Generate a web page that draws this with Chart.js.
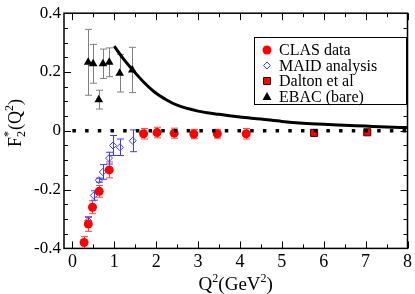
<!DOCTYPE html>
<html>
<head>
<meta charset="utf-8">
<script src="https://cdn.jsdelivr.net/npm/chart.js@4.4.0/dist/chart.umd.min.js"></script>
<style>
  html, body { margin: 0; padding: 0; background: #fff; }
  #wrap { width: 415px; height: 294px; }
</style>
</head>
<body>
<div id="wrap"><canvas id="chart" width="415" height="294"></canvas></div>
<script>
// data
const clasX   = [0.28, 0.38, 0.48, 0.64, 0.88, 1.70, 2.02, 2.43, 2.90, 3.46, 4.15];
const clasY   = [-0.380, -0.317, -0.260, -0.206, -0.133, -0.010, -0.006, -0.008, -0.011, -0.010, -0.010];
const clasErr = [0.020, 0.025, 0.022, 0.020, 0.027, 0.018, 0.018, 0.017, 0.016, 0.015, 0.018];

const maidX   = [0.38, 0.51, 0.63, 0.725, 0.875, 0.97, 1.135, 1.44];
const maidY   = [-0.306, -0.220, -0.168, -0.140, -0.093, -0.050, -0.056, -0.034];
const maidErr = [0.012, 0.016, 0.007, 0.025, 0.020, 0.034, 0.028, 0.037];

const daltonX = [5.77, 7.04];
const daltonY = [-0.007, -0.005];

const ebacX   = [0.377, 0.495, 0.63, 0.73, 0.88, 1.13, 1.43];
const ebacY   = [0.233, 0.228, 0.106, 0.228, 0.233, 0.196, 0.207];
const ebacErr = [0.112, 0.066, 0.032, 0.050, 0.049, 0.064, 0.077];

const curveX = [1.0, 1.2, 1.44, 1.7, 1.96, 2.25, 2.5, 3.0, 3.5, 4.0, 4.5, 5.0, 5.5, 6.0, 6.5, 7.0, 7.5, 8.0];
const curveY = [0.288, 0.248, 0.207, 0.166, 0.132, 0.105, 0.087, 0.067, 0.056, 0.047, 0.040, 0.032, 0.026, 0.022, 0.019, 0.016, 0.013, 0.011];

const zeroX = [0, 8];
const zeroY = [0, 0];

const xTicks = [0, 1, 2, 3, 4, 5, 6, 7, 8];
const yTicks = [-0.4, -0.2, 0, 0.2, 0.4];
const legendLabels = ['CLAS data', 'MAID analysis', 'Dalton et al', 'EBAC (bare)'];

const FONT = '"Liberation Serif", "DejaVu Serif", serif';
const RED = '#ff0000';
const BLUE = '#3c3cff';

const pts = (xs, ys) => xs.map((x, i) => ({ x: x, y: ys[i] }));

// error bars behind the markers
const errorBars = {
  id: 'errorBars',
  beforeDatasetsDraw(chart) {
    const { ctx, scales: { x, y } } = chart;
    const sets = [
      [ebacX, ebacY, ebacErr, '#808080'],
      [clasX, clasY, clasErr, '#ff4444'],
      [maidX, maidY, maidErr, BLUE]
    ];
    ctx.save();
    ctx.lineWidth = 1;
    sets.forEach(([xs, ys, es, col]) => {
      ctx.strokeStyle = col;
      xs.forEach((v, i) => {
        const px = Math.round(x.getPixelForValue(v)) + 0.5;
        const y1 = y.getPixelForValue(ys[i] + es[i]);
        const y2 = y.getPixelForValue(ys[i] - es[i]);
        ctx.beginPath();
        ctx.moveTo(px, y1); ctx.lineTo(px, y2);
        ctx.moveTo(px - 3.5, y1); ctx.lineTo(px + 3.5, y1);
        ctx.moveTo(px - 3.5, y2); ctx.lineTo(px + 3.5, y2);
        ctx.stroke();
      });
    });
    ctx.restore();
  }
};

function marker(ctx, kind, cx, cy) {
  ctx.beginPath();
  if (kind === 0) {
    ctx.fillStyle = RED;
    ctx.arc(cx, cy, 4.5, 0, Math.PI * 2);
    ctx.fill();
  } else if (kind === 1) {
    ctx.strokeStyle = BLUE; ctx.lineWidth = 1;
    ctx.moveTo(cx - 3.5, cy); ctx.lineTo(cx, cy - 3.5);
    ctx.lineTo(cx + 3.5, cy); ctx.lineTo(cx, cy + 3.5);
    ctx.closePath(); ctx.stroke();
  } else if (kind === 2) {
    ctx.fillStyle = RED; ctx.strokeStyle = '#400000'; ctx.lineWidth = 1;
    ctx.rect(cx - 3.5, cy - 3.5, 7, 7);
    ctx.fill(); ctx.stroke();
  } else {
    ctx.fillStyle = '#000';
    ctx.moveTo(cx, cy - 4.5); ctx.lineTo(cx + 4.5, cy + 3.5); ctx.lineTo(cx - 4.5, cy + 3.5);
    ctx.closePath(); ctx.fill();
  }
}

// frame, inward ticks, axis titles, legend
const decor = {
  id: 'decor',
  afterDraw(chart) {
    const { ctx, chartArea: a, scales: { x, y } } = chart;
    ctx.save();
    ctx.strokeStyle = '#000';
    ctx.lineWidth = 1.5;
    ctx.strokeRect(a.left, a.top, a.right - a.left, a.bottom - a.top);

    ctx.lineWidth = 1;
    ctx.beginPath();
    for (let v = 0; v <= 8.001; v += 0.5) {
      const px = Math.round(x.getPixelForValue(v)) + 0.5;
      const len = Math.abs(v - Math.round(v)) < 1e-6 ? 7 : 4;
      ctx.moveTo(px, a.bottom); ctx.lineTo(px, a.bottom - len);
      ctx.moveTo(px, a.top); ctx.lineTo(px, a.top + len);
    }
    for (let k = -8; k <= 8; k++) {
      const py = Math.round(y.getPixelForValue(k * 0.05)) + 0.5;
      const len = k % 4 === 0 ? 7 : 4;
      ctx.moveTo(a.left, py); ctx.lineTo(a.left + len, py);
      ctx.moveTo(a.right, py); ctx.lineTo(a.right - len, py);
    }
    ctx.stroke();

    // x title
    ctx.fillStyle = '#000';
    ctx.textBaseline = 'alphabetic';
    ctx.textAlign = 'left';
    const big = '19px ' + FONT, small = '12px ' + FONT;
    const parts = [['Q', big, 0], ['2', small, -8], ['(GeV', big, 0], ['2', small, -8], [')', big, 0]];
    let w = 0;
    parts.forEach(p => { ctx.font = p[1]; w += ctx.measureText(p[0]).width; });
    let cx = (a.left + a.right) / 2 - w / 2;
    parts.forEach(p => { ctx.font = p[1]; ctx.fillText(p[0], cx, 290 + p[2]); cx += ctx.measureText(p[0]).width; });

    // y title
    ctx.save();
    ctx.translate(21, 147);
    ctx.rotate(-Math.PI / 2);
    const yb = '18px ' + FONT;
    ctx.font = yb; ctx.fillText('F', 0, 0);
    let tx = ctx.measureText('F').width;
    ctx.font = small; ctx.fillText('2', tx, 4); ctx.fillText('*', tx, -9);
    tx += ctx.measureText('2').width + 1;
    ctx.font = yb; ctx.fillText('(Q', tx, 0); tx += ctx.measureText('(Q').width;
    ctx.font = small; ctx.fillText('2', tx, -8); tx += ctx.measureText('2').width;
    ctx.font = yb; ctx.fillText(')', tx, 0);
    ctx.restore();

    // legend
    ctx.fillStyle = '#fff';
    ctx.fillRect(254, 37, 152, 67);
    ctx.strokeStyle = '#000'; ctx.lineWidth = 1;
    ctx.strokeRect(254.5, 37.5, 152, 67);
    ctx.font = '16px ' + FONT;
    ctx.textBaseline = 'middle';
    legendLabels.forEach((lab, i) => {
      const ly = 50 + i * 15.5;
      marker(ctx, i, 267, ly);
      ctx.fillStyle = '#000';
      ctx.fillText(lab, 279, ly + 1);
    });
    ctx.restore();
  }
};

new Chart(document.getElementById('chart'), {
  type: 'scatter',
  data: {
    datasets: [
      { data: pts(zeroX, zeroY), showLine: true, borderColor: '#000', borderWidth: 3.5,
        borderDash: [3.5, 9.2], borderCapStyle: 'butt', pointRadius: 0 },
      { data: pts(curveX, curveY), showLine: true, borderColor: '#000', borderWidth: 3,
        cubicInterpolationMode: 'monotone', pointRadius: 0 },
      { data: pts(ebacX, ebacY), pointStyle: 'triangle', pointRadius: 5,
        backgroundColor: '#000', borderColor: '#000', borderWidth: 0 },
      { data: pts(clasX, clasY), pointStyle: 'circle', pointRadius: 4.5,
        backgroundColor: RED, borderColor: RED, borderWidth: 0 },
      { data: pts(maidX, maidY), pointStyle: 'rectRot', pointRadius: 3.5,
        backgroundColor: 'rgba(0,0,0,0)', borderColor: BLUE, borderWidth: 1 },
      { data: pts(daltonX, daltonY), pointStyle: 'rect', pointRadius: 5,
        backgroundColor: RED, borderColor: '#400000', borderWidth: 1 }
    ]
  },
  options: {
    responsive: false,
    animation: false,
    devicePixelRatio: 1,
    layout: { padding: { top: 7, right: 5.5, left: 0, bottom: 0 } },
    plugins: { legend: { display: false }, tooltip: { enabled: false } },
    scales: {
      x: {
        type: 'linear', min: -0.2, max: 8,
        afterBuildTicks: s => { s.ticks = xTicks.map(v => ({ value: v })); },
        afterFit: s => { s.height = 45.6; },
        grid: { display: false, drawTicks: false },
        border: { display: false },
        ticks: { font: { family: FONT, size: 18 }, color: '#000', padding: 3, maxRotation: 0,
          callback: v => String(v) }
      },
      y: {
        type: 'linear', min: -0.4, max: 0.4,
        afterBuildTicks: s => { s.ticks = yTicks.map(v => ({ value: v })); },
        afterFit: s => { s.width = 64; },
        grid: { display: false, drawTicks: false },
        border: { display: false },
        ticks: { font: { family: FONT, size: 17 }, color: '#000', padding: 3,
          callback: v => String(Math.round(v * 10) / 10) }
      }
    }
  },
  plugins: [errorBars, decor]
});
</script>
</body>
</html>
